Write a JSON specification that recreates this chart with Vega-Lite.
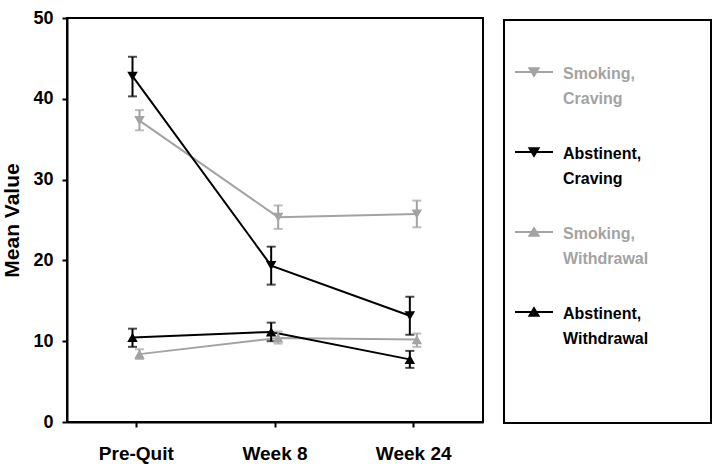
{
  "$schema": "https://vega.github.io/schema/vega-lite/v6.json",
  "autosize": "none",
  "width": 416,
  "height": 404,
  "padding": {"left": 67, "top": 18, "right": 231, "bottom": 51},
  "background": "white",
  "config": {
    "view": {"stroke": "black", "strokeWidth": 2},
    "axis": {
      "domainColor": "black", "domainWidth": 2, "tickColor": "black", "tickWidth": 2, "tickSize": 5,
      "labelColor": "black", "labelFont": "Liberation Sans", "labelFontWeight": "bold", "labelFontSize": 18,
      "titleColor": "black", "titleFont": "Liberation Sans", "titleFontWeight": "bold", "titleFontSize": 21,
      "grid": false
    }
  },
  "data": {
    "values": [
      {"time": "Pre-Quit", "series": "Smoking, Craving", "status": "Smoking", "measure": "Craving", "mean": 37.3, "lo": 36.1, "hi": 38.6},
      {"time": "Week 8", "series": "Smoking, Craving", "status": "Smoking", "measure": "Craving", "mean": 25.35, "lo": 23.9, "hi": 26.8},
      {"time": "Week 24", "series": "Smoking, Craving", "status": "Smoking", "measure": "Craving", "mean": 25.75, "lo": 24.1, "hi": 27.4},
      {"time": "Pre-Quit", "series": "Abstinent, Craving", "status": "Abstinent", "measure": "Craving", "mean": 42.8, "lo": 40.3, "hi": 45.2},
      {"time": "Week 8", "series": "Abstinent, Craving", "status": "Abstinent", "measure": "Craving", "mean": 19.35, "lo": 17.0, "hi": 21.7},
      {"time": "Week 24", "series": "Abstinent, Craving", "status": "Abstinent", "measure": "Craving", "mean": 13.15, "lo": 10.8, "hi": 15.5},
      {"time": "Pre-Quit", "series": "Smoking, Withdrawal", "status": "Smoking", "measure": "Withdrawal", "mean": 8.4, "lo": 7.8, "hi": 9.0},
      {"time": "Week 8", "series": "Smoking, Withdrawal", "status": "Smoking", "measure": "Withdrawal", "mean": 10.4, "lo": 9.7, "hi": 11.2},
      {"time": "Week 24", "series": "Smoking, Withdrawal", "status": "Smoking", "measure": "Withdrawal", "mean": 10.2, "lo": 9.3, "hi": 10.95},
      {"time": "Pre-Quit", "series": "Abstinent, Withdrawal", "status": "Abstinent", "measure": "Withdrawal", "mean": 10.45, "lo": 9.3, "hi": 11.55},
      {"time": "Week 8", "series": "Abstinent, Withdrawal", "status": "Abstinent", "measure": "Withdrawal", "mean": 11.15, "lo": 10.0, "hi": 12.3},
      {"time": "Week 24", "series": "Abstinent, Withdrawal", "status": "Abstinent", "measure": "Withdrawal", "mean": 7.75, "lo": 6.7, "hi": 8.8}
    ]
  },
  "encoding": {
    "x": {
      "field": "time", "type": "nominal", "sort": ["Pre-Quit", "Week 8", "Week 24"],
      "scale": {"type": "band", "paddingInner": 0, "paddingOuter": 0},
      "axis": {"title": null, "labelAngle": 0, "labelPadding": 17, "labelFontSize": 19}
    },
    "xOffset": {
      "field": "status", "type": "nominal",
      "scale": {"type": "point", "domain": ["Abstinent", "Smoking"], "range": [62, 76]}
    },
    "color": {
      "field": "series", "type": "nominal",
      "scale": {
        "domain": ["Smoking, Craving", "Abstinent, Craving", "Smoking, Withdrawal", "Abstinent, Withdrawal"],
        "range": ["#a3a3a3", "#000000", "#a3a3a3", "#000000"]
      },
      "legend": {
        "orient": "none", "legendX": 437, "legendY": 2,
        "title": " ", "titleOrient": "bottom", "titleAnchor": "start", "titleFont": "Liberation Sans", "titleFontSize": 8, "titlePadding": 6,
        "padding": 62, "symbolOffset": -52, "labelOffset": 9, "symbolSize": 1444,
        "rowPadding": 37,
        "labelExpr": "split(datum.label, ' ')",
        "labelFont": "Liberation Sans", "labelFontWeight": "bold", "labelFontSize": 16,
        "labelLimit": 200,
        "strokeColor": "black",
        "encode": {
          "legend": {"update": {"strokeWidth": {"value": 2}}},
          "symbols": {"update": {
            "y": {"value": -10},
            "shape": [{"test": "indexof(datum.value, 'Craving') >= 0", "value": "M-1,0H1M-0.24,-0.2H0.24L0,0.2Z"}, {"value": "M-1,0H1M-0.24,0.2H0.24L0,-0.2Z"}],
            "fill": [{"test": "indexof(datum.value, 'Smoking') >= 0", "value": "#a3a3a3"}, {"value": "#000000"}],
            "stroke": [{"test": "indexof(datum.value, 'Smoking') >= 0", "value": "#a3a3a3"}, {"value": "#000000"}],
            "strokeWidth": {"value": 2}, "size": {"value": 1444}, "opacity": {"value": 1}
          }},
          "labels": {"update": {
            "dy": {"value": -28},
            "lineHeight": {"value": 25},
            "fill": [{"test": "indexof(datum.value, 'Smoking') >= 0", "value": "#a3a3a3"}, {"value": "#000000"}]
          }}
        }
      }
    }
  },
  "layer": [
    {
      "mark": {"type": "line", "strokeWidth": 2},
      "encoding": {
        "y": {"field": "mean", "type": "quantitative", "scale": {"domain": [0, 50]},
          "axis": {"title": "Mean Value", "values": [0, 10, 20, 30, 40, 50], "labelPadding": 9, "titlePadding": 10}},
        "detail": {"field": "series"}
      }
    },
    {
      "mark": {"type": "rule", "strokeWidth": 2},
      "encoding": {"y": {"field": "lo", "type": "quantitative"}, "y2": {"field": "hi"}}
    },
    {
      "mark": {"type": "tick", "orient": "horizontal", "size": 9, "thickness": 2},
      "encoding": {"y": {"field": "lo", "type": "quantitative"}}
    },
    {
      "mark": {"type": "tick", "orient": "horizontal", "size": 9, "thickness": 2},
      "encoding": {"y": {"field": "hi", "type": "quantitative"}}
    },
    {
      "mark": {"type": "point", "filled": true, "opacity": 1, "size": 110},
      "encoding": {
        "y": {"field": "mean", "type": "quantitative"},
        "shape": {"field": "measure", "type": "nominal", "legend": null,
          "scale": {"domain": ["Craving", "Withdrawal"], "range": ["triangle-down", "triangle-up"]}}
      }
    }
  ]
}
